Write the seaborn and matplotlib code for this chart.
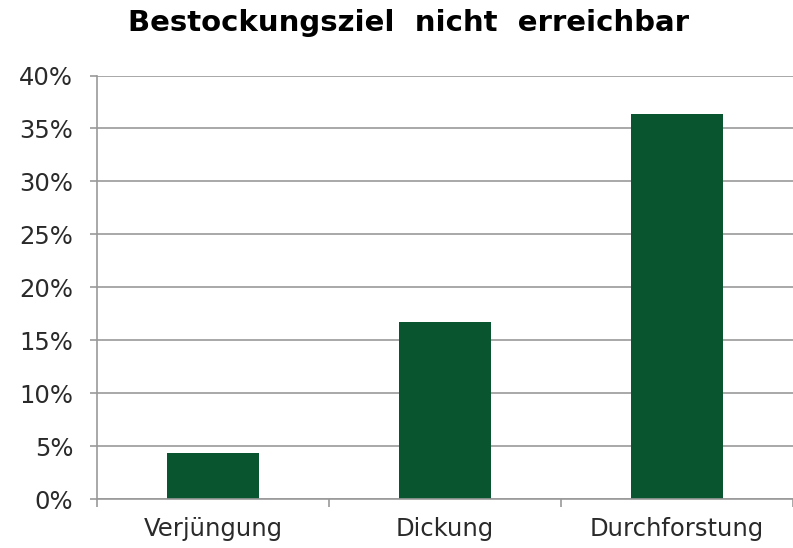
import numpy as np
import matplotlib.pyplot as plt
import seaborn as sns
from matplotlib.ticker import FixedLocator, PercentFormatter

categories = ['Verjüngung', 'Dickung', 'Durchforstung']
values = [4.3, 16.7, 36.4]
title = 'Bestockungsziel  nicht  erreichbar'

sns.set_style('white')
plt.rcParams['font.family'] = ['DejaVu Sans']

fig = plt.figure(figsize=(7.93, 5.48), dpi=100)
ax = fig.add_axes([0.1223, 0.0894, 0.8777, 0.7728])

sns.barplot(x=categories, y=values, color='#08552F', width=0.4,
            saturation=1, linewidth=0, edgecolor='none', ax=ax)

ax.set_xlim(-0.5, 2.5)
ax.set_ylim(0, 40)
ax.set_yticks(np.arange(0, 41, 5))
ax.yaxis.set_major_formatter(PercentFormatter(decimals=0))
ax.yaxis.grid(True, color='#999999', linewidth=1.2)
ax.set_axisbelow(True)

for side in ['top', 'right']:
    ax.spines[side].set_visible(False)
for side in ['left', 'bottom']:
    ax.spines[side].set_color('#999999')
    ax.spines[side].set_linewidth(1.2)

ax.tick_params(axis='y', left=True, length=5, width=1.2, color='#999999',
               labelsize=17.5, labelcolor='#2a2a2a', pad=12)
ax.tick_params(axis='x', which='major', length=0, labelsize=17.5,
               labelcolor='#2a2a2a', pad=13)
ax.xaxis.set_minor_locator(FixedLocator([-0.5, 0.5, 1.5, 2.5]))
ax.tick_params(axis='x', which='minor', bottom=True, length=6, width=1.2,
               color='#999999')
ax.set_xlabel('')
ax.set_ylabel('')

fig.text(0.515, 0.958, title, ha='center', va='center',
         fontsize=21, fontweight='bold', color='#000000')

fig.savefig('out.png', dpi=100)
